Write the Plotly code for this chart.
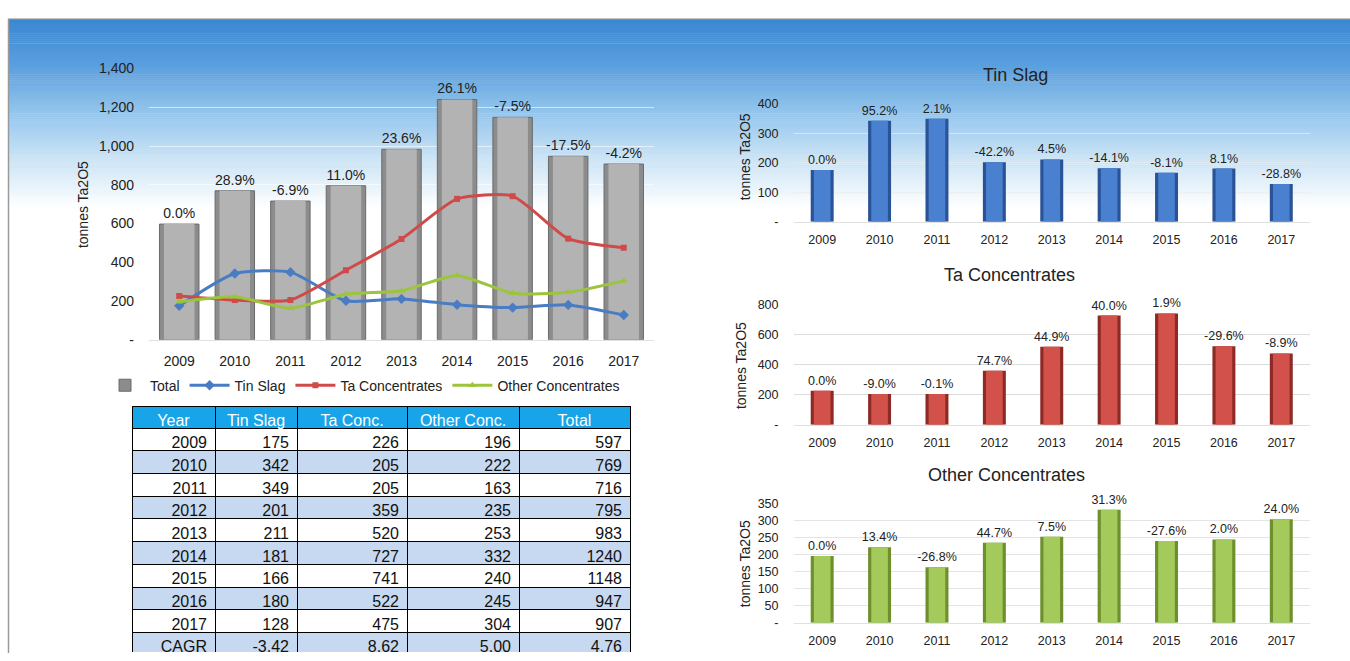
import plotly.graph_objects as go

W, H = 1350, 661

# ---------------- data ----------------
years = ["2009", "2010", "2011", "2012", "2013", "2014", "2015", "2016", "2017"]
tin_slag = [175, 342, 349, 201, 211, 181, 166, 180, 128]
ta_conc = [226, 205, 205, 359, 520, 727, 741, 522, 475]
other_conc = [196, 222, 163, 235, 253, 332, 240, 245, 304]
total = [597, 769, 716, 795, 983, 1240, 1148, 947, 907]
cagr = ["-3.42", "8.62", "5.00", "4.76"]

total_pct = ["0.0%", "28.9%", "-6.9%", "11.0%", "23.6%", "26.1%", "-7.5%", "-17.5%", "-4.2%"]
tin_pct = ["0.0%", "95.2%", "2.1%", "-42.2%", "4.5%", "-14.1%", "-8.1%", "8.1%", "-28.8%"]
ta_pct = ["0.0%", "-9.0%", "-0.1%", "74.7%", "44.9%", "40.0%", "1.9%", "-29.6%", "-8.9%"]
other_pct = ["0.0%", "13.4%", "-26.8%", "44.7%", "7.5%", "31.3%", "-27.6%", "2.0%", "24.0%"]

main_tickvals = [0, 200, 400, 600, 800, 1000, 1200, 1400]
main_ticktext = ["-", "200", "400", "600", "800", "1,000", "1,200", "1,400"]
tin_tickvals = [0, 100, 200, 300, 400]
tin_ticktext = ["-", "100", "200", "300", "400"]
ta_tickvals = [0, 200, 400, 600, 800]
ta_ticktext = ["-", "200", "400", "600", "800"]
other_tickvals = [0, 50, 100, 150, 200, 250, 300, 350]
other_ticktext = ["-", "50", "100", "150", "200", "250", "300", "350"]

table_header = ["Year", "Tin Slag", "Ta Conc.", "Other Conc.", "Total"]
row_labels = years + ["CAGR"]

FONT = "Arial, Liberation Sans, sans-serif"


def px(x):
    return x / W


def py(y):
    return 1 - y / H


fig = go.Figure()

# ---------------- main chart ----------------
fig.add_trace(go.Bar(x=years, y=total, name="Total", width=0.71,
                     marker=dict(color="#8c8c8c", line=dict(color="#6a6a6a", width=1)),
                     text=total_pct, textposition="outside", constraintext="none",
                     textfont=dict(size=14, color="#222", family=FONT), cliponaxis=False,
                     xaxis="x", yaxis="y"))
fig.add_trace(go.Bar(x=years, y=total, width=0.55, showlegend=False, hoverinfo="skip",
                     marker=dict(color="#b3b3b3", line=dict(width=0)),
                     xaxis="x", yaxis="y"))
line_specs = [
    ("Tin Slag", tin_slag, "#4a7cc4", "diamond", 8),
    ("Ta Concentrates", ta_conc, "#d04a4a", "square", 6),
    ("Other Concentrates", other_conc, "#9cc43c", "triangle-up", 7),
]
for name, vals, col, sym, sz in line_specs:
    fig.add_trace(go.Scatter(x=years, y=vals, name=name, mode="lines+markers",
                             line=dict(color=col, width=3, shape="spline", smoothing=0.6),
                             marker=dict(color=col, symbol=sym, size=sz),
                             cliponaxis=False, xaxis="x", yaxis="y"))

# ---------------- small charts ----------------
small = [
    ("x2", "y2", tin_slag, tin_pct, "#2a5296", "#4a80d0"),
    ("x3", "y3", ta_conc, ta_pct, "#8e2a25", "#d2514a"),
    ("x4", "y4", other_conc, other_pct, "#6d8f2c", "#a3ca5a"),
]
for xa, ya, vals, pcts, dark, light in small:
    fig.add_trace(go.Bar(x=years, y=vals, width=0.40, showlegend=False,
                         marker=dict(color=dark, line=dict(width=0)),
                         text=pcts, textposition="outside", constraintext="none",
                         textfont=dict(size=12.5, color="#222", family=FONT), cliponaxis=False,
                         xaxis=xa, yaxis=ya))
    fig.add_trace(go.Bar(x=years, y=vals, width=0.29, showlegend=False, hoverinfo="skip",
                         marker=dict(color=light, line=dict(width=0)),
                         xaxis=xa, yaxis=ya))

# ---------------- table ----------------
n = len(row_labels)
row_fill = ["#ffffff" if i % 2 == 0 else "#c6d9f0" for i in range(n)]
fig.add_trace(go.Table(
    domain=dict(x=[px(132), px(630)], y=[0, py(408)]),
    columnwidth=[83, 82, 110, 112, 111],
    header=dict(values=table_header, fill_color="#17a4e8", align="center",
                font=dict(color="white", size=16, family=FONT),
                line=dict(color="black", width=1), height=22),
    cells=dict(values=[row_labels,
                       [str(v) for v in tin_slag] + [cagr[0]],
                       [str(v) for v in ta_conc] + [cagr[1]],
                       [str(v) for v in other_conc] + [cagr[2]],
                       [str(v) for v in total] + [cagr[3]]],
               fill_color=[row_fill] * 5, align="right",
               font=dict(color="#111", size=16, family=FONT),
               line=dict(color="black", width=1), height=22.7),
))

# ---------------- background gradient ----------------
stops = [(12, (58, 135, 210)), (60, (92, 160, 222)), (100, (140, 192, 234)),
         (150, (198, 225, 245)), (205, (255, 255, 255))]


def color_at(y):
    for (y0, c0), (y1, c1) in zip(stops[:-1], stops[1:]):
        if y0 <= y <= y1:
            t = (y - y0) / (y1 - y0)
            return "rgb(%d,%d,%d)" % tuple(round(a + (b - a) * t) for a, b in zip(c0, c1))
    return "rgb(255,255,255)"


shapes = []
y = 12
while y < 205:
    shapes.append(dict(type="rect", xref="paper", yref="paper", x0=px(9), x1=1,
                       y0=py(y + 2.5), y1=py(y), fillcolor=color_at(y + 1),
                       line=dict(width=0), layer="below"))
    y += 2
shapes.append(dict(type="line", xref="paper", yref="paper", x0=px(8), x1=1,
                   y0=py(11.5), y1=py(11.5), line=dict(color="#8a8a8a", width=1.5), layer="below"))
shapes.append(dict(type="line", xref="paper", yref="paper", x0=px(8.5), x1=px(8.5),
                   y0=py(11.5), y1=0, line=dict(color="#9a9a9a", width=1.5), layer="below"))


# ---------------- annotations ----------------
def ann(text, x, y, size, angle=0):
    return dict(text=text, x=px(x), y=py(y), xref="paper", yref="paper",
                xanchor="center", yanchor="middle", textangle=angle, showarrow=False,
                font=dict(size=size, color="#222", family=FONT))


annotations = [
    ann("tonnes Ta2O5", 83, 202, 14, -90),
    ann("tonnes Ta2O5", 745, 153, 14, -90),
    ann("tonnes Ta2O5", 741, 367, 14, -90),
    ann("tonnes Ta2O5", 745, 570, 14, -90),
    ann("Tin Slag", 1015, 69, 18),
    ann("Ta Concentrates", 1009, 274, 18),
    ann("Other Concentrates", 1007, 479, 18),
]


def xax(dom, size, standoff):
    return dict(domain=dom, type="category", showgrid=False, zeroline=False,
                showline=True, linecolor="#e0e0e0", linewidth=1, ticks="",
                tickfont=dict(size=size, color="#222", family=FONT),
                ticklabelstandoff=standoff, fixedrange=True)


def yax(dom, rng, tv, tt, size, grid, standoff, anchor):
    return dict(domain=dom, range=rng, tickvals=tv, ticktext=tt, showgrid=True,
                gridcolor=grid, gridwidth=1, zeroline=False, showline=False, ticks="",
                tickfont=dict(size=size, color="#222", family=FONT),
                ticklabelstandoff=standoff, anchor=anchor, fixedrange=True)


sx = [px(793.5), px(1310)]
fig.update_layout(
    width=W, height=H, margin=dict(l=0, r=0, t=0, b=0),
    paper_bgcolor="white", plot_bgcolor="rgba(0,0,0,0)",
    barmode="overlay", font=dict(family=FONT, color="#222"),
    xaxis=dict(xax([px(149), px(654)], 14, 8), anchor="y"),
    yaxis=yax([py(340), py(62)], [0, 1400], main_tickvals, main_ticktext, 14,
              "rgba(255,255,255,0.6)", 14, "x"),
    xaxis2=dict(xax(sx, 12.5, 6), anchor="y2"),
    yaxis2=yax([py(219), py(98)], [0, 400], tin_tickvals, tin_ticktext, 12.5,
               "rgba(235,235,235,0.7)", 14, "x2"),
    xaxis3=dict(xax(sx, 12.5, 6), anchor="y3"),
    yaxis3=yax([py(427), py(304)], [0, 800], ta_tickvals, ta_ticktext, 12.5,
               "#dcdcdc", 14, "x3"),
    xaxis4=dict(xax(sx, 12.5, 6), anchor="y4"),
    yaxis4=yax([py(630), py(508)], [0, 350], other_tickvals, other_ticktext, 12.5,
               "#e4e4e4", 14, "x4"),
    legend=dict(orientation="h", x=px(100), y=py(387), xanchor="left", yanchor="middle",
                font=dict(size=14, color="#222", family=FONT), bgcolor="rgba(0,0,0,0)",
                itemwidth=40, tracegroupgap=0),
    shapes=shapes, annotations=annotations, showlegend=True,
)

fig.write_html("out.html")
